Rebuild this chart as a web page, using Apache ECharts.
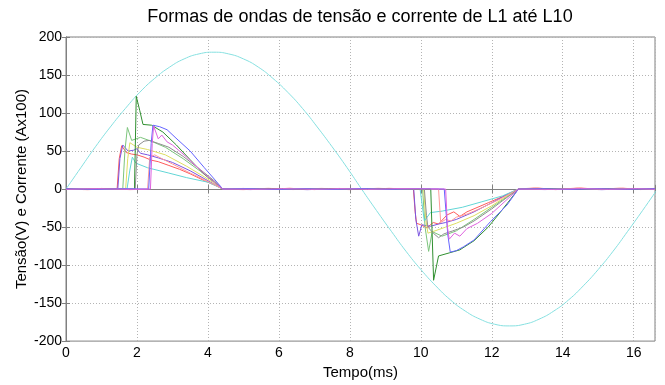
<!DOCTYPE html>
<html><head><meta charset="utf-8">
<script src="https://cdn.jsdelivr.net/npm/echarts@6/dist/echarts.min.js"></script>
<style>html,body{margin:0;padding:0;background:#fff}#c{width:665px;height:385px}</style>
</head><body><div id="c"></div>
<script>
const titleText = 'Formas de ondas de tensão e corrente de L1 até L10';
const xName = 'Tempo(ms)';
const yName = 'Tensão(V) e Corrente (Ax100)';
const xTicks = [0, 2, 4, 6, 8, 10, 12, 14, 16];
const yTicks = [-200, -150, -100, -50, 0, 50, 100, 150, 200];

// voltage (V), sampled every ~0.417 ms
const tV = [0,0.42,0.83,1.25,1.67,2.08,2.5,2.92,3.33,3.75,4.17,4.58,5,5.42,5.83,6.25,6.67,7.08,7.5,7.92,8.33,8.75,9.17,9.58,10,10.42,10.83,11.25,11.67,12.08,12.5,12.92,13.33,13.75,14.17,14.58,15,15.42,15.83,16.25,16.67];
const vV = [0,28.2,55.6,81.7,105.8,127.3,145.6,160.4,171.2,177.8,180,177.8,171.2,160.4,145.6,127.3,105.8,81.7,55.6,28.2,0,-28.2,-55.6,-81.7,-105.8,-127.3,-145.6,-160.4,-171.2,-177.8,-180,-177.8,-171.2,-160.4,-145.6,-127.3,-105.8,-81.7,-55.6,-28.2,0];

// currents (A x100), [time, value]
const L1 = [[0,0.6],[0.5,-0.7],[1.0,0.8],[1.44,0],[1.5,40],[1.57,57],[1.7,48],[1.85,46],[2.0,45],[2.2,42],[2.4,38],[2.6,36],[2.9,31],[3.2,26],[3.5,20],[3.9,11],[4.2,5],[4.42,0],[5.0,0.8],[5.6,-0.6],[6.3,1],[7.0,-0.7],[7.7,0.8],[8.4,-0.5],[9.1,0.9],[9.79,0],[9.84,-30],[9.88,-45],[10.0,-47],[10.17,-51],[10.35,-44],[10.5,-46],[10.74,-34],[10.93,-30],[11.1,-36],[11.3,-30],[11.5,-26],[11.9,-18],[12.3,-10],[12.75,0],[13.3,1.2],[13.9,-0.6],[14.5,1.3],[15.1,-0.5],[15.7,1],[16.3,-0.4],[16.6,0.8]];
const L2 = [[0,-0.5],[0.6,0.7],[1.2,-0.6],[1.46,0],[1.52,40],[1.6,58],[1.75,50],[1.9,51],[2.0,53],[2.1,47],[2.3,45],[2.6,41],[3.0,35],[3.5,24],[4.0,11],[4.42,0],[5.2,-0.7],[6.0,0.6],[6.8,-0.8],[7.6,0.5],[8.4,-0.6],[9.2,0.7],[9.8,0],[9.86,-40],[9.94,-62],[10.03,-47],[10.27,-49],[10.5,-46],[10.7,-44],[11.0,-40],[11.5,-30],[12.0,-18],[12.4,-8],[12.75,0],[13.5,-0.7],[14.3,0.6],[15.1,-0.8],[15.9,0.5],[16.6,-0.4]];
const L3 = [[0,0.4],[0.7,-0.6],[1.3,0.5],[1.6,0],[1.66,50],[1.73,81],[1.85,64],[2.1,68],[2.4,63],[2.8,55],[3.3,40],[3.8,23],[4.2,8],[4.42,0],[5.1,0.6],[5.9,-0.5],[6.7,0.7],[7.5,-0.6],[8.3,0.4],[9.1,-0.5],[10.05,0],[10.12,-50],[10.22,-82],[10.32,-56],[10.6,-62],[11.0,-55],[11.5,-40],[12.0,-24],[12.4,-11],[12.75,0],[13.4,0.5],[14.2,-0.6],[15.0,0.7],[15.8,-0.5],[16.6,0.4]];
const L4 = [[0,-0.4],[0.8,0.5],[1.4,-0.5],[1.68,0],[1.74,40],[1.8,61],[2.0,55],[2.3,52],[2.8,45],[3.4,30],[3.9,16],[4.2,7],[4.42,0],[5.3,-0.5],[6.1,0.6],[6.9,-0.4],[7.7,0.5],[8.5,-0.6],[9.3,0.4],[10.08,0],[10.14,-40],[10.2,-58],[10.4,-55],[10.7,-50],[11.0,-45],[11.5,-35],[12.0,-22],[12.4,-10],[12.75,0],[13.6,0.5],[14.4,-0.4],[15.2,0.6],[16.0,-0.5],[16.6,0.3]];
const L5 = [[0,0.3],[0.9,-0.5],[1.5,0.4],[1.72,0],[1.8,25],[1.87,42],[1.97,34],[2.3,28],[2.9,21],[3.4,15],[4.0,9],[4.42,0],[5.4,0.4],[6.2,-0.5],[7.0,0.5],[7.8,-0.4],[8.6,0.5],[9.4,-0.4],[9.98,0],[10.05,-25],[10.1,-42],[10.27,-31],[10.6,-29],[11.17,-24],[11.7,-17],[12.3,-9],[12.75,0],[13.7,-0.4],[14.5,0.5],[15.3,-0.4],[16.1,0.5],[16.6,-0.3]];
const L6 = [[0,0.8],[0.6,-0.9],[1.2,0.7],[1.8,-0.8],[2.3,0],[2.36,42],[2.5,45],[2.7,40],[3.0,33],[3.5,21],[4.0,10],[4.42,0],[5.0,-0.8],[5.7,1],[6.4,-0.7],[7.2,0.9],[8.0,-0.8],[8.8,1],[9.6,-0.6],[10.5,0],[10.56,-44],[10.7,-40],[10.85,-42],[11.0,-37],[11.3,-33],[11.7,-25],[12.2,-14],[12.75,0],[13.2,1.5],[13.8,-0.8],[14.4,1.4],[15.0,-0.7],[15.6,1.3],[16.2,-0.7],[16.6,1]];
const L7 = [[0,0.5],[0.5,-0.6],[1.1,0.7],[1.7,-0.4],[1.93,0],[1.98,122],[2.08,103],[2.17,85],[2.41,84],[2.73,75],[3.11,58],[3.49,39],[3.86,21],[4.24,7],[4.42,0],[5.1,-0.5],[5.8,0.6],[6.6,-0.6],[7.4,0.5],[8.2,-0.5],[9.0,0.6],[9.8,-0.4],[10.28,0],[10.36,-120],[10.5,-88],[10.8,-84],[11.1,-80],[11.5,-68],[11.9,-50],[12.3,-27],[12.75,0],[13.5,0.5],[14.3,-0.6],[15.1,0.5],[15.9,-0.5],[16.6,0.4]];
const L8 = [[0,-0.6],[0.7,0.5],[1.4,-0.5],[1.95,0],[2.0,45],[2.05,58],[2.2,63],[2.35,64],[2.6,60],[2.9,55],[3.3,43],[3.8,25],[4.2,10],[4.42,0],[5.2,0.5],[6.0,-0.5],[6.8,0.5],[7.6,-0.5],[8.4,0.5],[9.2,-0.5],[10.1,0],[10.16,-35],[10.2,-50],[10.35,-58],[10.5,-64],[10.65,-59],[10.9,-55],[11.2,-50],[11.5,-42],[12.0,-26],[12.4,-12],[12.75,0],[13.6,-0.5],[14.4,0.5],[15.2,-0.5],[16.0,0.5],[16.6,-0.4]];
const L9 = [[0,0.4],[0.8,-0.5],[1.6,0.5],[2.33,0],[2.4,60],[2.45,84],[2.64,82],[2.85,78],[3.1,67],[3.5,50],[3.9,28],[4.2,12],[4.42,0],[5.1,0.5],[5.9,-0.6],[6.7,0.4],[7.5,-0.5],[8.3,0.6],[9.1,-0.4],[9.9,0.5],[10.66,0],[10.76,-60],[10.83,-83],[11.0,-81],[11.2,-76],[11.5,-67],[11.96,-43],[12.43,-21],[12.75,0],[13.4,0.5],[14.2,-0.6],[15.0,0.5],[15.8,-0.4],[16.6,0.5]];
const L10 = [[0,-0.3],[0.9,0.5],[1.8,-0.4],[2.38,0],[2.43,60],[2.47,83],[2.6,66],[2.7,71],[2.85,62],[3.0,58],[3.4,42],[3.9,20],[4.2,8],[4.42,0],[5.3,-0.4],[6.1,0.5],[6.9,-0.4],[7.7,0.5],[8.5,-0.4],[9.3,0.5],[10.7,0],[10.75,-50],[10.8,-66],[10.95,-58],[11.1,-62],[11.3,-52],[11.6,-45],[12.0,-32],[12.4,-15],[12.75,0],[13.7,-0.4],[14.5,0.5],[15.3,-0.3],[16.1,0.4],[16.6,-0.3]];

const currents = [L1, L2, L3, L4, L5, L6, L7, L8, L9, L10];
const currentNames = ['L1','L2','L3','L4','L5','L6','L7','L8','L9','L10'];
const currentColors = ['#ff5a5a','#7a55e0','#7cc47c','#dede62','#62d6d6','#ff9a9a','#2f8f2f','#8e8e8e','#6464ff','#de62de'];
const voltageColor = '#86e0e0';

const chart = echarts.init(document.getElementById('c'), null, {renderer: 'canvas'});
const FONT = 'Liberation Sans, Arial, sans-serif';
const series = [{
  name: 'V', type: 'line', data: tV.map((t, i) => [t, vV[i]]), smooth: true,
  showSymbol: false, lineStyle: {color: voltageColor, width: 1}, z: 1
}];
currents.forEach((d, i) => series.push({
  name: currentNames[i], type: 'line', data: d, showSymbol: false,
  lineStyle: {color: currentColors[i], width: 1}, z: 2
}));

const xBase = {type: 'value', min: 0, max: 16.6, interval: 2};
const yBase = {type: 'value', min: -200, max: 200, interval: 50};
chart.setOption({
  animation: false,
  title: {text: titleText, left: 360, textAlign: 'center', top: 8, padding: 0,
    textStyle: {fontFamily: FONT, fontSize: 18, fontWeight: 'normal', color: '#000'}},
  grid: {left: 66, right: 10, top: 37, bottom: 36, show: true, borderColor: '#808080', borderWidth: 1},
  xAxis: [Object.assign({}, xBase, {
    position: 'bottom', name: xName, nameLocation: 'middle', nameGap: 22,
    nameTextStyle: {fontFamily: FONT, fontSize: 15, color: '#000'},
    axisLine: {show: true, lineStyle: {color: '#808080'}},
    axisTick: {show: true, inside: true, length: 4, lineStyle: {color: '#808080'}},
    axisLabel: {fontFamily: FONT, fontSize: 14, color: '#000', margin: 5,
      formatter: v => xTicks.includes(v) ? String(v) : ''},
    splitLine: {show: true, lineStyle: {color: '#b4b4b4', type: [1, 2], width: 1}}
  }), Object.assign({}, xBase, {
    position: 'top', axisLine: {show: true, lineStyle: {color: '#808080'}},
    axisTick: {show: true, inside: true, length: 4, lineStyle: {color: '#808080'}},
    axisLabel: {show: false}, splitLine: {show: false}
  })],
  yAxis: [Object.assign({}, yBase, {
    position: 'left', name: yName, nameLocation: 'middle', nameGap: 37, nameMoveOverlap: false,
    nameTextStyle: {fontFamily: FONT, fontSize: 15, color: '#000'},
    axisLine: {show: true, lineStyle: {color: '#808080'}},
    axisTick: {show: true, inside: true, length: 4, lineStyle: {color: '#808080'}},
    axisLabel: {fontFamily: FONT, fontSize: 14, color: '#000', margin: 4,
      formatter: v => yTicks.includes(v) ? String(v) : ''},
    splitLine: {show: true, lineStyle: {color: '#b4b4b4', type: [1, 2], width: 1}}
  }), Object.assign({}, yBase, {
    position: 'right', axisLine: {show: true, lineStyle: {color: '#808080'}},
    axisTick: {show: true, inside: true, length: 4, lineStyle: {color: '#808080'}},
    axisLabel: {show: false}, splitLine: {show: false}
  })],
  series: series
});
</script></body></html>
